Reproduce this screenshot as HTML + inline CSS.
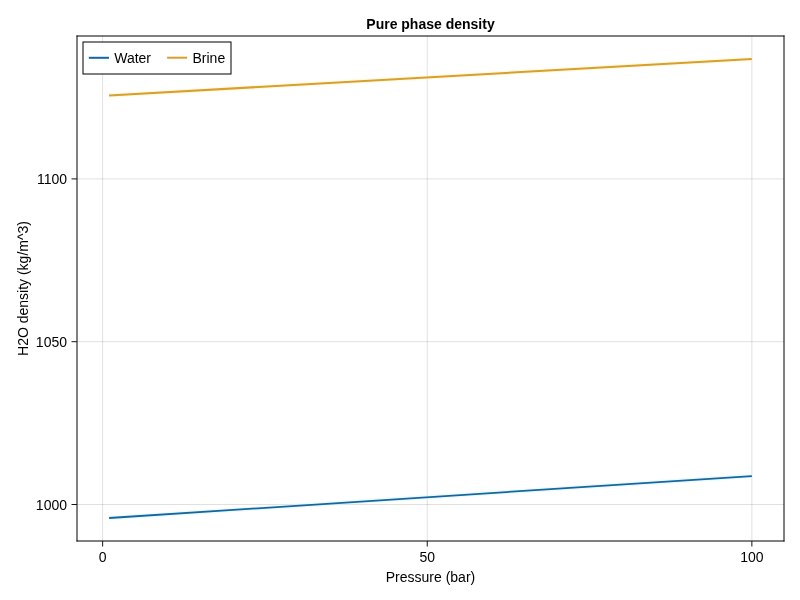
<!DOCTYPE html>
<html>
<head>
<meta charset="utf-8">
<title>Pure phase density</title>
<style>
html, body { margin: 0; padding: 0; background: #ffffff; }
body { width: 800px; height: 600px; overflow: hidden; }
svg { display: block; will-change: transform; }
text { font-family: "Liberation Sans", Arial, sans-serif; fill: #000000; }
.tick { font-size: 14px; }
.lab { font-size: 14px; }
.title { font-size: 14px; font-weight: bold; }
</style>
</head>
<body>
<svg width="800" height="600" viewBox="0 0 800 600">
  <rect x="0" y="0" width="800" height="600" fill="#ffffff"/>
  <!-- grid -->
  <g stroke="#000000" stroke-opacity="0.12" stroke-width="1" fill="none">
    <line x1="102.64" y1="36" x2="102.64" y2="541"/>
    <line x1="427.25" y1="36" x2="427.25" y2="541"/>
    <line x1="751.86" y1="36" x2="751.86" y2="541"/>
    <line x1="77" y1="504.5" x2="784" y2="504.5"/>
    <line x1="77" y1="341.7" x2="784" y2="341.7"/>
    <line x1="77" y1="178.9" x2="784" y2="178.9"/>
  </g>
  <!-- data -->
  <g fill="none" stroke-width="4.5" stroke-linecap="butt" opacity="0.45">
    <path d="M109.14 518 Q430.5 496.15 751.86 476.06" stroke="#d6f1fc"/>
    <path d="M109.14 95.5 Q430.5 76.8 751.86 58.95" stroke="#fff3c4"/>
  </g>
  <g fill="none" stroke-width="1.8" stroke-linecap="butt">
    <path d="M109.14 518 Q430.5 496.15 751.86 476.06" stroke="#12679f"/>
    <path d="M109.14 95.5 Q430.5 76.8 751.86 58.95" stroke="#d99f2c" stroke-width="2.1"/>
  </g>
  <!-- spines -->
  <g stroke="#000000" stroke-width="1" fill="none">
    <line x1="76.5" y1="36" x2="784.5" y2="36"/>
    <line x1="76.5" y1="541" x2="784.5" y2="541"/>
    <line x1="77" y1="35.5" x2="77" y2="541.5"/>
    <line x1="784" y1="35.5" x2="784" y2="541.5"/>
  </g>
  <!-- ticks -->
  <g stroke="#141414" stroke-width="1" fill="none">
    <line x1="71.5" y1="504.5" x2="77" y2="504.5"/>
    <line x1="71.5" y1="341.7" x2="77" y2="341.7"/>
    <line x1="71.5" y1="178.9" x2="77" y2="178.9"/>
    <line x1="102.64" y1="541" x2="102.64" y2="546.5"/>
    <line x1="427.25" y1="541" x2="427.25" y2="546.5"/>
    <line x1="751.86" y1="541" x2="751.86" y2="546.5"/>
  </g>
  <!-- tick labels -->
  <g class="tick">
    <text x="67" y="509.5" text-anchor="end">1000</text>
    <text x="67" y="346.7" text-anchor="end">1050</text>
    <text x="67" y="183.9" text-anchor="end">1100</text>
    <text x="102.64" y="562" text-anchor="middle">0</text>
    <text x="427.25" y="562" text-anchor="middle">50</text>
    <text x="751.86" y="562" text-anchor="middle">100</text>
  </g>
  <!-- axis labels -->
  <text class="lab" x="430.5" y="581.5" text-anchor="middle">Pressure (bar)</text>
  <text class="lab" transform="translate(27.9 288.5) rotate(-90)" text-anchor="middle">H2O density (kg/m^3)</text>
  <!-- title -->
  <text class="title" x="430.5" y="28.6" text-anchor="middle">Pure phase density</text>
  <!-- legend -->
  <rect x="83" y="42" width="148" height="32" fill="#ffffff" stroke="#000000" stroke-width="1"/>
  <line x1="88.8" y1="57.8" x2="109" y2="57.8" stroke="#12679f" stroke-width="2"/>
  <text class="lab" x="114.2" y="62.8">Water</text>
  <line x1="167.1" y1="57.7" x2="187.1" y2="57.7" stroke="#d99f2c" stroke-width="2"/>
  <text class="lab" x="192.5" y="62.8">Brine</text>
</svg>
</body>
</html>
